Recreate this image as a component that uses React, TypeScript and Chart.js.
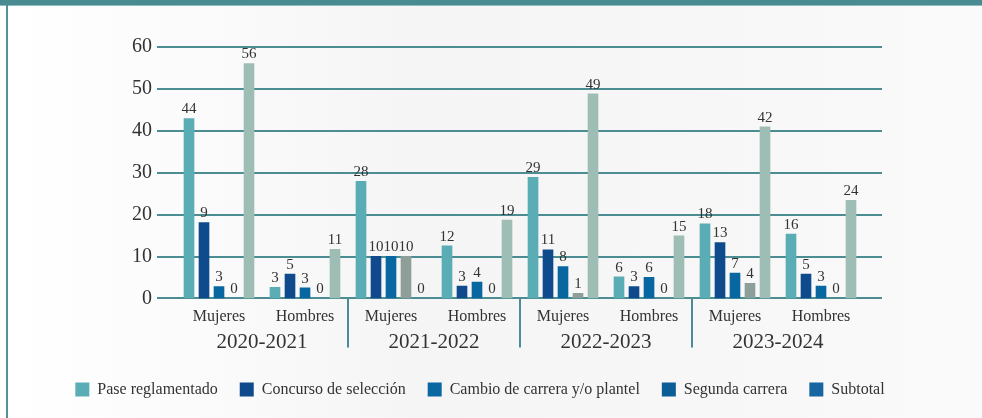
import { useEffect, useRef } from "react";
import { Chart, registerables } from "chart.js";

Chart.register(...registerables);

const categories = ["Mujeres", "Hombres", "Mujeres", "Hombres", "Mujeres", "Hombres", "Mujeres", "Hombres"];
const years = ["2020-2021", "2021-2022", "2022-2023", "2023-2024"];
const seriesNames = ["Pase reglamentado", "Concurso de selección", "Cambio de carrera y/o plantel", "Segunda carrera", "Subtotal"];

// bar heights as drawn in the picture
const pase = [43, 2.7, 28, 12.6, 29, 5.2, 17.9, 15.4];
const concurso = [18.2, 5.9, 10.1, 3.0, 11.7, 2.9, 13.4, 5.9];
const cambio = [2.9, 2.6, 10.1, 4.0, 7.7, 5.1, 6.1, 3.0];
const segunda = [0, 0, 10.1, 0, 1.3, 0, 3.7, 0];
const subtotal = [56.1, 11.8, 0, 18.8, 48.9, 15.0, 41.0, 23.5];

// value labels as printed in the picture
const paseLabels = ["44", "3", "28", "12", "29", "6", "18", "16"];
const concursoLabels = ["9", "5", "10", "3", "11", "3", "13", "5"];
const cambioLabels = ["3", "3", "10", "4", "8", "6", "7", "3"];
const segundaLabels = ["0", "0", "10", "0", "1", "0", "4", "0"];
const subtotalLabels = ["56", "11", "0", "19", "49", "15", "42", "24"];

const yMin = 0;
const yMax = 60;
const yStep = 10;

const barColors = ["#5aadb5", "#0f4a8c", "#0867a0", "#8e9f9a", "#9dbdb5"];
const legendColors = ["#5aadb5", "#0f4a8c", "#0a67a1", "#0b5d97", "#1766a1"];
const gridColor = "#4b8d93";
const textColor = "#333333";
const fontFamily = "'Liberation Serif', 'DejaVu Serif', serif";

const seriesValues = [pase, concurso, cambio, segunda, subtotal];
const seriesLabels = [paseLabels, concursoLabels, cambioLabels, segundaLabels, subtotalLabels];

const gridPlugin = {
  id: "gridAndSeparators",
  beforeDatasetsDraw(chart: any) {
    const { ctx, chartArea, scales } = chart;
    const y = scales.y;
    const x = scales.x;
    ctx.save();
    ctx.strokeStyle = gridColor;
    ctx.lineWidth = 2;
    y.ticks.forEach((t: any) => {
      const py = Math.round(y.getPixelForValue(t.value));
      ctx.beginPath();
      ctx.moveTo(chartArea.left - 19, py);
      ctx.lineTo(chartArea.right + 18, py);
      ctx.stroke();
    });
    for (let i = 2; i < categories.length; i += 2) {
      const px = Math.round((x.getPixelForValue(i - 1) + x.getPixelForValue(i)) / 2);
      ctx.beginPath();
      ctx.moveTo(px, chartArea.bottom);
      ctx.lineTo(px, chartArea.bottom + 49);
      ctx.stroke();
    }
    ctx.restore();
  },
};

const valueLabelPlugin = {
  id: "valueLabels",
  afterDatasetsDraw(chart: any) {
    const { ctx } = chart;
    ctx.save();
    ctx.fillStyle = textColor;
    ctx.font = `15px ${fontFamily}`;
    ctx.textAlign = "center";
    ctx.textBaseline = "alphabetic";
    chart.data.datasets.forEach((_: any, di: number) => {
      const meta = chart.getDatasetMeta(di);
      meta.data.forEach((el: any, j: number) => {
        ctx.fillText(seriesLabels[di][j], el.x, el.y - 5);
      });
    });
    ctx.restore();
  },
};

export default function App() {
  const ref = useRef<HTMLCanvasElement | null>(null);

  useEffect(() => {
    if (!ref.current) return;
    const chart = new Chart(ref.current, {
      type: "bar",
      data: {
        labels: categories,
        datasets: seriesNames.map((name, i) => ({
          label: name,
          data: seriesValues[i],
          backgroundColor: barColors[i],
          borderWidth: 0,
          categoryPercentage: 0.872,
          barPercentage: 0.71,
          xAxisID: "x",
          yAxisID: "y",
        })),
      },
      options: {
        responsive: false,
        animation: false,
        layout: { padding: { left: 0, right: 22, top: 47, bottom: 10.6 } },
        plugins: {
          tooltip: { enabled: false },
          legend: {
            position: "bottom",
            onClick: () => {},
            labels: {
              boxWidth: 14,
              boxHeight: 14,
              padding: 22,
              color: textColor,
              font: { family: fontFamily, size: 16 },
              generateLabels: () =>
                seriesNames.map((n, i) => ({
                  text: n,
                  fillStyle: legendColors[i],
                  strokeStyle: legendColors[i],
                  lineWidth: 0,
                  hidden: false,
                  datasetIndex: i,
                  fontColor: textColor,
                })),
            },
          },
        },
        scales: {
          x: {
            type: "category",
            position: "bottom",
            weight: 1,
            offset: true,
            grid: { display: false, drawTicks: false },
            border: { display: false },
            ticks: {
              color: textColor,
              font: { family: fontFamily, size: 16 },
              padding: 9,
              maxRotation: 0,
              autoSkip: false,
            },
            afterFit: (s: any) => {
              s.height = 28;
            },
          },
          x2: {
            type: "category",
            position: "bottom",
            weight: 2,
            labels: years,
            offset: true,
            grid: { display: false, drawTicks: false },
            border: { display: false },
            ticks: {
              color: textColor,
              font: { family: fontFamily, size: 21 },
              padding: 3,
              maxRotation: 0,
              autoSkip: false,
            },
            afterFit: (s: any) => {
              s.height = 33;
            },
          },
          y: {
            type: "linear",
            position: "left",
            min: yMin,
            max: yMax,
            grid: { display: false, drawTicks: false },
            border: { display: false },
            ticks: {
              stepSize: yStep,
              color: textColor,
              font: { family: fontFamily, size: 20 },
              padding: 24,
            },
            afterFit: (s: any) => {
              s.width = 176;
            },
          },
          yR: {
            type: "linear",
            position: "right",
            display: true,
            grid: { display: false, drawTicks: false },
            border: { display: false },
            ticks: { display: false },
            afterFit: (s: any) => {
              s.width = 96;
            },
          },
        },
      },
      plugins: [gridPlugin, valueLabelPlugin],
    } as any);
    return () => chart.destroy();
  }, []);

  return (
    <div
      style={{
        position: "fixed",
        left: 0,
        top: 0,
        width: 982,
        height: 418,
        overflow: "hidden",
        background: "linear-gradient(90deg, #ffffff 0px, #fcfcfc 150px, #f5f5f5 420px, #f7f7f7 700px, #fafafa 982px)",
      }}
    >
      <div style={{ position: "absolute", left: 0, top: 0, width: 982, height: 5, background: "#4a8a91" }} />
      <div style={{ position: "absolute", left: 0, top: 5, width: 982, height: 1, background: "#8fbcc0" }} />
      <div style={{ position: "absolute", left: 6, top: 5, width: 2, height: 413, background: "#4f9398" }} />
      <canvas ref={ref} width={982} height={418} style={{ position: "absolute", left: 0, top: 0 }} />
    </div>
  );
}
